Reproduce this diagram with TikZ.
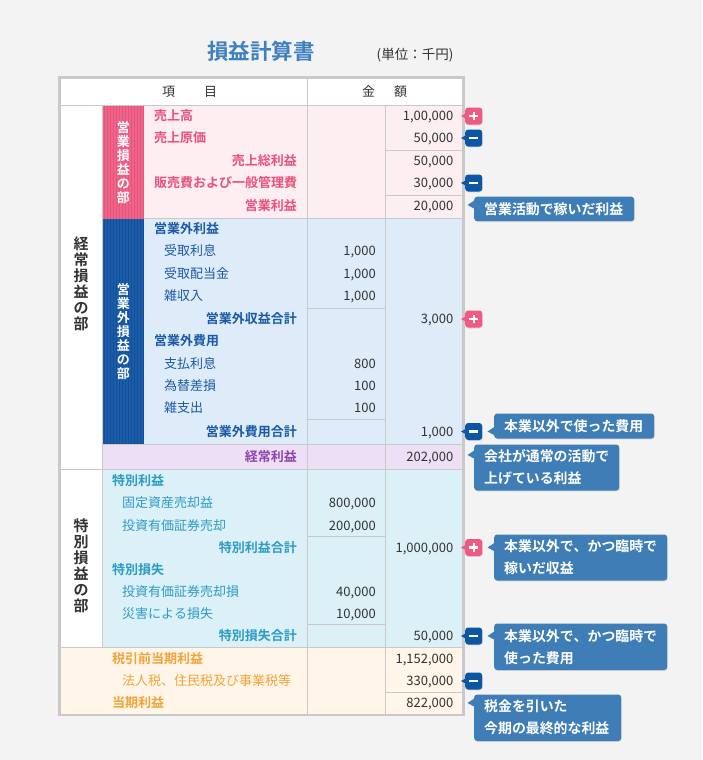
\documentclass[tikz,border=0pt]{standalone}
\usepackage{fontspec}
\setmainfont{Noto Sans CJK JP}[Kerning=Off, BoldFont={Noto Sans CJK JP Bold}]
\usetikzlibrary{shadows}
\definecolor{bgC}{HTML}{F3F3F3}
\definecolor{lineC}{HTML}{C9C9C9}
\definecolor{pinkBg}{HTML}{FDEEF2}
\definecolor{pinkBar}{HTML}{F06489}
\definecolor{pinkStripe}{HTML}{E4557E}
\definecolor{pinkT}{HTML}{E9527C}
\definecolor{navyBar}{HTML}{1B5CA8}
\definecolor{navyStripe}{HTML}{145099}
\definecolor{blueBg}{HTML}{DEECF9}
\definecolor{blueT}{HTML}{1B5AA6}
\definecolor{purpleBg}{HTML}{EDDFF6}
\definecolor{purpleT}{HTML}{8C44AD}
\definecolor{tealBg}{HTML}{DCF0F7}
\definecolor{tealT}{HTML}{2E9CC4}
\definecolor{orangeBg}{HTML}{FFF5E8}
\definecolor{orangeT}{HTML}{F2A33A}
\definecolor{numC}{HTML}{333333}
\definecolor{calloutC}{HTML}{3F7DB7}
\definecolor{badgePink}{HTML}{EF5A82}
\definecolor{badgeNavy}{HTML}{0C56A4}
\definecolor{titleC}{HTML}{3F80BF}
\begin{document}
\begin{tikzpicture}[x=1pt,y=-1pt,
  txt/.style={inner sep=0pt, text height=11pt, text depth=1.4pt, font=\fontsize{13}{15}\selectfont},
  lw/.style={txt, anchor=west},
  re/.style={txt, anchor=east},
  num/.style={txt, anchor=east, text=numC},
  bf/.style={font=\fontsize{13}{15}\selectfont\bfseries},
  gl/.style={draw=lineC, line width=1pt},
  badge/.style={rectangle, rounded corners=3pt, minimum width=17pt, minimum height=17pt, inner sep=0pt,
     drop shadow={shadow xshift=0.6pt, shadow yshift=-0.8pt, opacity=0.25}},
  sym/.style={draw=white, line width=2.4pt},
  callout/.style={rectangle, rounded corners=3pt, fill=calloutC, text=white, anchor=north west,
     inner xsep=10pt, inner ysep=0pt, align=left, font=\fontsize{13.9}{22}\selectfont\bfseries,
     drop shadow={shadow xshift=0.6pt, shadow yshift=-0.8pt, opacity=0.25}},
  vt/.style={align=center, inner sep=0pt}
]
\useasboundingbox (0,0) rectangle (702,760);
\fill[bgC] (0,0) rectangle (702,760);

% title
\node[inner sep=0pt, text=titleC, font=\fontsize{21.5}{24}\selectfont\bfseries] (title) at (261,51.5) {損益計算書};
\node[inner sep=0pt, text=numC, font=\fontsize{13.5}{15}\selectfont] (unit) at (415,55) {(単位：千円)};

% section fills
\fill[white] (60,78) rectangle (463,105);
\fill[white] (60,105) rectangle (102.5,647);
\fill[pinkBg] (144,105) rectangle (463,218.5);
\fill[pinkBar] (102.5,105) rectangle (144,218.5);
\fill[blueBg] (144,218.5) rectangle (463,444.5);
\fill[navyBar] (102.5,218.5) rectangle (144,444.5);
\fill[purpleBg] (102.5,444.5) rectangle (463,469);
\fill[tealBg] (102.5,469) rectangle (463,647);
\fill[orangeBg] (60,647) rectangle (463,715);
% stripes
\foreach \sx in {104,107,...,143} {
  \fill[pinkStripe] (\sx,105) rectangle (\sx+1.2,218.5);
  \fill[navyStripe] (\sx,218.5) rectangle (\sx+1.2,444.5);
}

% grid lines
\draw[gl] (60,105) -- (463,105);
\draw[gl] (144,218.5) -- (463,218.5);
\draw[gl] (102.5,444.5) -- (463,444.5);
\draw[gl] (60,469) -- (463,469);
\draw[gl] (60,647) -- (463,647);
\draw[gl] (102.5,105) -- (102.5,647);
\draw[gl] (307,78) -- (307,715);
\draw[gl] (385,105) -- (385,715);
\draw[gl] (385,150.7) -- (463,150.7);
\draw[gl] (385,195.7) -- (463,195.7);
\draw[gl] (307,308.5) -- (385,308.5);
\draw[gl] (307,419.5) -- (385,419.5);
\draw[gl] (307,536) -- (385,536);
\draw[gl] (307,624.5) -- (385,624.5);
\draw[gl] (385,692) -- (463,692);
\draw[draw=lineC, line width=2.2pt] (59.5,77.5) rectangle (463.5,715);

% header
\node[txt, text=numC] (h1) at (168.5,91.5) {項};
\node[txt, text=numC] (h2) at (210.5,91.5) {目};
\node[txt, text=numC] (h3) at (368.5,91.5) {金};
\node[txt, text=numC] (h4) at (400.5,91.5) {額};

% vertical labels
\node[vt, text=white, font=\fontsize{13}{14}\selectfont\bfseries] (vbar1) at (123.3,163) {営\\業\\損\\益\\の\\部};
\node[vt, text=white, font=\fontsize{13}{14}\selectfont\bfseries] (vbar2) at (123.3,331.5) {営\\業\\外\\損\\益\\の\\部};
\node[vt, text=numC, font=\fontsize{15}{16}\selectfont\bfseries] (vsec1) at (81,284) {経\\常\\損\\益\\の\\部};
\node[vt, text=numC, font=\fontsize{15}{16}\selectfont\bfseries] (vsec2) at (81,566) {特\\別\\損\\益\\の\\部};

% pink section
\node[lw, bf, text=pinkT] (p1) at (154,116) {売上高};
\node[lw, bf, text=pinkT] (p2) at (154,138) {売上原価};
\node[re, bf, text=pinkT] (p3) at (297,160.5) {売上総利益};
\node[lw, bf, text=pinkT] (p4) at (154,183) {販売費および一般管理費};
\node[re, bf, text=pinkT] (p5) at (297,206) {営業利益};
\node[num] (pn1) at (453.5,116) {1,00,000};
\node[num] (pn2) at (453.5,138) {50,000};
\node[num] (pn3) at (453.5,160.5) {50,000};
\node[num] (pn4) at (453.5,183) {30,000};
\node[num] (pn5) at (453.5,206) {20,000};

% blue section
\node[lw, bf, text=blueT] (q1) at (154,229) {営業外利益};
\node[lw, text=blueT] (q2) at (164,251) {受取利息};
\node[lw, text=blueT] (q3) at (164,273.5) {受取配当金};
\node[lw, text=blueT] (q4) at (164,296) {雑収入};
\node[re, bf, text=blueT] (q5) at (297,319) {営業外収益合計};
\node[lw, bf, text=blueT] (q6) at (154,341) {営業外費用};
\node[lw, text=blueT] (q7) at (164,363.5) {支払利息};
\node[lw, text=blueT] (q8) at (164,385.5) {為替差損};
\node[lw, text=blueT] (q9) at (164,408) {雑支出};
\node[re, bf, text=blueT] (q10) at (297,431.5) {営業外費用合計};
\node[num] (qn2) at (376,251) {1,000};
\node[num] (qn3) at (376,273.5) {1,000};
\node[num] (qn4) at (376,296) {1,000};
\node[num] (qn5) at (453.5,319) {3,000};
\node[num] (qn7) at (376,363.5) {800};
\node[num] (qn8) at (376,385.5) {100};
\node[num] (qn9) at (376,408) {100};
\node[num] (qn10) at (453.5,431.5) {1,000};

% purple row
\node[re, bf, text=purpleT] (k1) at (297,456.5) {経常利益};
\node[num] (kn1) at (453.5,456.5) {202,000};

% teal section
\node[lw, bf, text=tealT] (t1) at (112,481) {特別利益};
\node[lw, text=tealT] (t2) at (122,503) {固定資産売却益};
\node[lw, text=tealT] (t3) at (122,525.5) {投資有価証券売却};
\node[re, bf, text=tealT] (t4) at (297,547.5) {特別利益合計};
\node[lw, bf, text=tealT] (t5) at (112,569.5) {特別損失};
\node[lw, text=tealT] (t6) at (122,591.5) {投資有価証券売却損};
\node[lw, text=tealT] (t7) at (122,613.5) {災害による損失};
\node[re, bf, text=tealT] (t8) at (297,636) {特別損失合計};
\node[num] (tn2) at (376,503) {800,000};
\node[num] (tn3) at (376,525.5) {200,000};
\node[num] (tn4) at (453.5,547.5) {1,000,000};
\node[num] (tn6) at (376,591.5) {40,000};
\node[num] (tn7) at (376,613.5) {10,000};
\node[num] (tn8) at (453.5,636) {50,000};

% orange section
\node[lw, bf, text=orangeT] (o1) at (112,658.5) {税引前当期利益};
\node[lw, text=orangeT] (o2) at (122,681) {法人税、住民税及び事業税等};
\node[lw, bf, text=orangeT] (o3) at (112,703) {当期利益};
\node[num] (on1) at (453.5,658.5) {1,152,000};
\node[num] (on2) at (453.5,681) {330,000};
\node[num] (on3) at (453.5,703) {822,000};

% badges
\foreach \n/\yy in {bp1/116, bp2/319, bp3/547.5} {
  \fill[badgePink] (465.5,\yy-2.5) -- (461,\yy) -- (465.5,\yy+2.5) -- cycle;
  \node[badge, fill=badgePink] (\n) at (473.7,\yy) {};
  \draw[sym] ([xshift=-4.4pt]\n.center) -- ([xshift=4.4pt]\n.center);
  \draw[sym] ([yshift=-4.4pt]\n.center) -- ([yshift=4.4pt]\n.center);
}
\foreach \n/\yy in {bm1/138, bm2/183, bm3/431.5, bm4/636, bm5/681} {
  \fill[badgeNavy] (465.5,\yy-2.5) -- (461,\yy) -- (465.5,\yy+2.5) -- cycle;
  \node[badge, fill=badgeNavy] (\n) at (473.7,\yy) {};
  \draw[sym] ([xshift=-4.4pt]\n.center) -- ([xshift=4.4pt]\n.center);
}

% callouts
\fill[calloutC] (475,200) -- (467.5,205) -- (475,209) -- cycle;
\node[callout, minimum width=160pt, minimum height=24.5pt, text width=140pt] (c1) at (474,196.5) {営業活動で稼いだ利益};
\fill[calloutC] (495,426.5) -- (487.5,431.5) -- (495,435.5) -- cycle;
\node[callout, minimum width=160pt, minimum height=25pt, text width=140pt] (c2) at (494,413.3) {本業以外で使った費用};
\fill[calloutC] (475,450) -- (467.5,455) -- (475,459) -- cycle;
\node[callout, minimum width=145pt, minimum height=46pt, text width=125pt] (c3) at (474,444.3) {会社が通常の活動で\\上げている利益};
\fill[calloutC] (495,542.5) -- (487.5,547.5) -- (495,551.5) -- cycle;
\node[callout, minimum width=173pt, minimum height=46pt, text width=153pt] (c4) at (494,534.3) {本業以外で、かつ臨時で\\稼いだ収益};
\fill[calloutC] (495,631) -- (487.5,636) -- (495,640) -- cycle;
\node[callout, minimum width=173pt, minimum height=46.5pt, text width=153pt] (c5) at (494,623.3) {本業以外で、かつ臨時で\\使った費用};
\fill[calloutC] (475,698) -- (467.5,703) -- (475,707) -- cycle;
\node[callout, minimum width=147pt, minimum height=46.5pt, text width=127pt] (c6) at (474,694.3) {税金を引いた\\今期の最終的な利益};
\end{tikzpicture}
\end{document}
